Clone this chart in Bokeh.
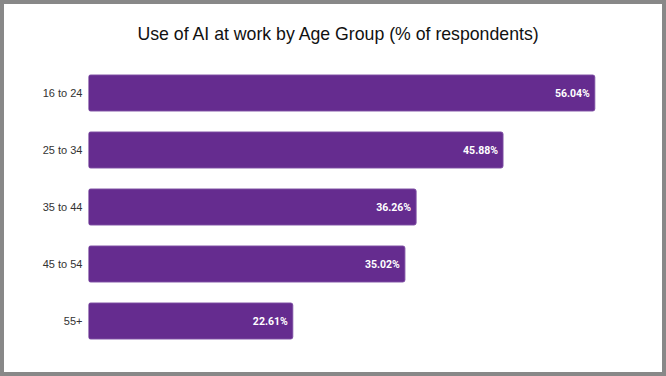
from bokeh.plotting import figure
from bokeh.models import ColumnDataSource, Range1d
from bokeh.core.properties import value
from bokeh.embed import file_html
from bokeh.resources import INLINE

categories = ["16 to 24", "25 to 34", "35 to 44", "45 to 54", "55+"]
values = [56.04, 45.88, 36.26, 35.02, 22.61]
labels = ["56.04%", "45.88%", "36.26%", "35.02%", "22.61%"]

source = ColumnDataSource(data=dict(cat=categories, val=values, lab=labels))

p = figure(
    width=666, height=376,
    y_range=list(reversed(categories)),
    x_range=Range1d(0, 61.1),
    output_backend="svg", toolbar_location=None,
    title="Use of AI at work by Age Group (% of respondents)",
    min_border_left=88, min_border_right=26, min_border_top=64, min_border_bottom=27,
)
p.styles = {"background-color": "white", "box-shadow": "inset 0 0 0 4px #888888"}
p.title.align = "left"
p.title.offset = 49
p.title.text_font = "Liberation Sans"
p.title.text_font_size = "17.7px"
p.title.text_font_style = "normal"
p.title.text_color = "#111111"
p.title.standoff = 42

p.hbar(y="cat", right="val", left=0, height=0.63, source=source,
       fill_color="#652C8F", line_color="#7A4AA0", line_width=1, border_radius=2)

p.text(x="val", y="cat", text="lab", source=source, x_offset=-5,
       text_align="right", text_baseline="middle",
       text_font=value("Roboto"), text_font_style="bold",
       text_font_size="10.5px", text_color="white")

p.xaxis.visible = False
p.yaxis.axis_line_color = None
p.yaxis.major_tick_line_color = None
p.yaxis.minor_tick_line_color = None
p.yaxis.major_label_text_font = "Liberation Sans"
p.yaxis.major_label_text_font_size = "11px"
p.yaxis.major_label_text_color = "#333333"
p.yaxis.major_label_standoff = 0
p.xgrid.visible = False
p.ygrid.visible = False
p.outline_line_color = None
p.background_fill_color = "white"
p.border_fill_alpha = 0

open("out.html", "w").write(file_html(p, INLINE))
